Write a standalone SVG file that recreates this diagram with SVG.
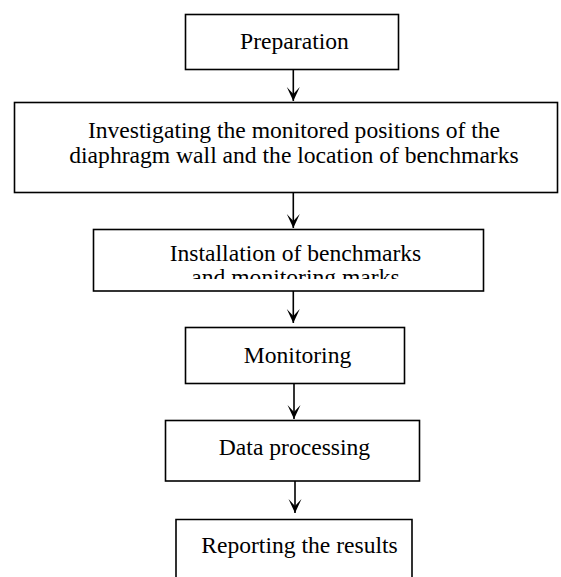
<svg xmlns="http://www.w3.org/2000/svg" width="561" height="577" viewBox="0 0 561 577">
<style>
.box{fill:#fff;stroke:#000;stroke-width:1.6}
.t{font-family:"Liberation Serif","Times New Roman",serif;font-size:23.6px;fill:#000;text-anchor:middle}
.c{stroke:#000;stroke-width:1.6;fill:none}
</style>
<defs>
<marker id="ah" markerUnits="userSpaceOnUse" markerWidth="16" markerHeight="16" viewBox="-15 -8 16 16" refX="0" refY="0" orient="auto">
<path d="M0,0 L-14,-6.5 L-7,0 L-14,6.5 Z" fill="#000"/>
</marker>
<clipPath id="clip3"><rect x="93" y="229" width="400" height="50"/></clipPath>
</defs>
<rect width="561" height="577" fill="#fff"/>
<g id="n1">
<rect class="box" x="185.5" y="14.5" width="213" height="55"/>
<text class="t" x="294.5" y="49">Preparation</text>
</g>
<g id="n2">
<rect class="box" x="14.5" y="102.5" width="543" height="90"/>
<text class="t" x="294" y="138">Investigating the monitored positions of the</text>
<text class="t" x="294" y="163">diaphragm wall and the location of benchmarks</text>
</g>
<g id="n3">
<rect class="box" x="93.5" y="229.5" width="390" height="61.5"/>
<g clip-path="url(#clip3)">
<text class="t" x="295.5" y="261">Installation of benchmarks</text>
<text class="t" x="295.5" y="285">and monitoring marks</text>
</g>
</g>
<g id="n4">
<rect class="box" x="185.5" y="327.5" width="219" height="56"/>
<text class="t" x="297.5" y="363">Monitoring</text>
</g>
<g id="n5">
<rect class="box" x="165.5" y="420.5" width="254" height="60.5"/>
<text class="t" x="294.5" y="455">Data processing</text>
</g>
<g id="n6">
<path class="c" d="M176,580 V519.5 H412 V580"/>
<text class="t" x="299.5" y="553">Reporting the results</text>
</g>
<g id="connectors">
<line class="c" x1="293.3" y1="70" x2="293.3" y2="101" marker-end="url(#ah)"/>
<line class="c" x1="293.3" y1="193" x2="293.3" y2="228" marker-end="url(#ah)"/>
<line class="c" x1="293.3" y1="291" x2="293.3" y2="323" marker-end="url(#ah)"/>
<line class="c" x1="294" y1="384" x2="294" y2="419" marker-end="url(#ah)"/>
<line class="c" x1="295" y1="481" x2="295" y2="513" marker-end="url(#ah)"/>
</g>
</svg>
